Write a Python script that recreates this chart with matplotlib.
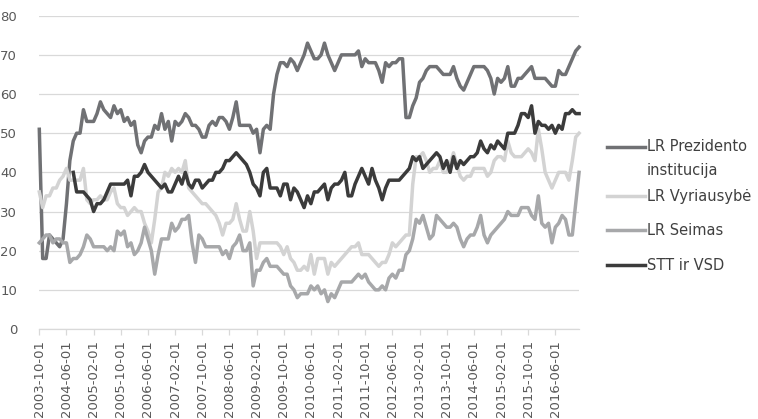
import numpy as np
import pandas as pd
import matplotlib
matplotlib.use("Agg")
import matplotlib.pyplot as plt
from matplotlib.lines import Line2D

# monthly survey series, 2003-10 .. 2017-01
start_month = "2003-10-01"

prezidento = [
    51, 18, 18, 24, 23, 22, 21, 23, 32, 43,
    48, 50, 50, 56, 53, 53, 53, 55, 58, 56,
    55, 54, 57, 55, 56, 53, 54, 52, 53, 47,
    45, 48, 49, 49, 52, 51, 55, 51, 53, 48,
    53, 52, 53, 55, 54, 52, 52, 51, 49, 49,
    52, 53, 52, 54, 54, 53, 51, 54, 58, 52,
    52, 52, 52, 50, 51, 45, 51, 52, 51, 60,
    65, 68, 68, 67, 69, 68, 66, 68, 70, 73,
    71, 69, 69, 70, 73, 70, 68, 66, 68, 70,
    70, 70, 70, 70, 71, 67, 69, 68, 68, 68,
    66, 63, 68, 67, 68, 68, 69, 69, 54, 54,
    57, 59, 63, 64, 66, 67, 67, 67, 66, 65,
    65, 65, 67, 64, 62, 61, 63, 65, 67, 67,
    67, 67, 66, 64, 60, 64, 63, 64, 67, 62,
    62, 64, 64, 65, 66, 67, 64, 64, 64, 64,
    63, 62, 62, 66, 65, 65, 67, 69, 71, 72,
]

vyriausybe = [
    35, 31, 34, 34, 36, 36, 38, 39, 41, 38,
    38, 38, 38, 41, 33, 32, 33, 33, 34, 33,
    33, 35, 36, 32, 31, 31, 29, 30, 31, 30,
    30, 27, 25, 22, 28, 35, 36, 40, 39, 41,
    40, 41, 40, 43, 36, 35, 34, 33, 32, 32,
    31, 30, 29, 27, 24, 27, 27, 28, 32, 28,
    25, 25, 30, 25, 18, 22, 22, 22, 22, 22,
    22, 21, 19, 21, 18, 17, 15, 15, 16, 15,
    19, 14, 18, 18, 18, 14, 17, 16, 17, 18,
    19, 20, 21, 21, 22, 19, 19, 19, 18, 17,
    16, 17, 17, 19, 22, 21, 22, 23, 24, 24,
    37, 44, 44, 45, 43, 40, 41, 41, 43, 40,
    40, 42, 45, 42, 39, 38, 39, 39, 41, 41,
    41, 41, 39, 40, 43, 44, 44, 43, 48, 45,
    44, 44, 44, 45, 46, 45, 43, 51, 46, 40,
    38, 36, 38, 40, 40, 40, 38, 43, 49, 50,
]

seimas = [
    22, 23, 24, 24, 22, 23, 23, 22, 22, 17,
    18, 18, 19, 21, 24, 23, 21, 21, 21, 21,
    20, 21, 20, 25, 24, 25, 21, 22, 19, 20,
    22, 26, 23, 20, 14, 19, 23, 23, 23, 27,
    25, 26, 28, 28, 29, 22, 17, 24, 23, 21,
    21, 21, 21, 21, 19, 20, 18, 21, 22, 24,
    20, 20, 22, 11, 15, 15, 17, 18, 16, 16,
    16, 15, 14, 14, 11, 10, 8, 9, 9, 9,
    11, 10, 11, 9, 10, 7, 9, 8, 10, 12,
    12, 12, 12, 13, 14, 13, 14, 12, 11, 10,
    10, 11, 10, 13, 14, 13, 15, 15, 19, 20,
    23, 28, 27, 29, 26, 23, 24, 29, 28, 27,
    26, 26, 27, 26, 23, 21, 23, 24, 24, 26,
    29, 24, 22, 24, 25, 26, 27, 28, 30, 29,
    29, 29, 31, 31, 31, 29, 28, 34, 27, 26,
    27, 22, 26, 27, 29, 28, 24, 24, 32, 40,
]

stt_vsd = [
    None, None, None, None, None, None, None, None, None, None,
    40, 35, 35, 35, 34, 33, 30, 32, 32, 33,
    35, 37, 37, 37, 37, 37, 38, 34, 39, 39,
    40, 42, 40, 39, 38, 37, 36, 37, 35, 35,
    37, 39, 37, 40, 37, 36, 38, 38, 36, 37,
    38, 38, 40, 40, 41, 43, 43, 44, 45, 44,
    43, 42, 40, 37, 36, 34, 40, 41, 36, 36,
    36, 34, 37, 37, 33, 36, 35, 33, 31, 34,
    32, 35, 35, 36, 37, 33, 36, 37, 37, 38,
    40, 34, 34, 37, 39, 41, 39, 37, 41, 38,
    36, 33, 36, 38, 38, 38, 38, 39, 40, 41,
    44, 43, 44, 41, 42, 43, 44, 45, 44, 41,
    43, 40, 44, 41, 43, 42, 43, 44, 44, 45,
    48, 46, 45, 47, 46, 48, 47, 46, 50, 50,
    50, 52, 55, 55, 54, 57, 50, 53, 52, 52,
    51, 52, 50, 52, 51, 55, 55, 56, 55, 55,
]

series_labels = ["LR Prezidento institucija", "LR Vyriausybė", "LR Seimas", "STT ir VSD"]
series_colors = ["#707174", "#d3d3d3", "#a7a8aa", "#3b3b3b"]

n = len(prezidento)
months = pd.date_range(start_month, periods=n, freq="MS")
x = np.arange(n)
tick_idx = x[::8]
tick_labels = months[tick_idx].strftime("%Y-%m-%d")

W, H = 758, 419
fig = plt.figure(figsize=(W / 100, H / 100), dpi=100)
ax = fig.add_axes([39.3 / W, 1 - 329 / H, (579.1 - 39.3) / W, (329 - 15.7) / H])

all_series = [prezidento, vyriausybe, seimas, stt_vsd]
for vals, color in zip(all_series, series_colors):
    y = np.array([np.nan if v is None else v for v in vals], dtype=float)
    ax.plot(x, y, color=color, linewidth=2.5, clip_on=False, zorder=3)

ax.set_xlim(0, n - 1)
ax.set_ylim(0, 80)
ax.set_yticks(range(0, 81, 10))
ax.set_xticks(tick_idx)
ax.set_xticklabels(tick_labels, rotation=90)

ax.grid(axis="y", color="#d9d9d9", linewidth=0.9)
ax.set_axisbelow(True)
for side in ["left", "right", "top"]:
    ax.spines[side].set_visible(False)
ax.spines["bottom"].set_color("#d9d9d9")
ax.spines["bottom"].set_linewidth(0.9)
ax.tick_params(axis="y", length=0, pad=16, labelsize=9.5, labelcolor="#595959")
ax.tick_params(axis="x", length=4, width=0.9, color="#d9d9d9", pad=4,
               labelsize=9.5, labelcolor="#595959")

# legend on the right, drawn by hand so the wrapped label sits like the original
leg_y = [146.7, 196, 230, 265]
x0, x1 = 606.7 / W, 645.0 / W
for lab, color, yp in zip(series_labels, series_colors, leg_y):
    yf = 1 - yp / H
    fig.add_artist(Line2D([x0, x1], [yf, yf], transform=fig.transFigure,
                          color=color, linewidth=2.5))
    if lab.startswith("LR Prezidento"):
        first, second = "LR Prezidento", "institucija"
        fig.text(x1 + 2 / W, yf, first, va="center", ha="left",
                 fontsize=10.5, color="#404040")
        fig.text(x1 + 2 / W, 1 - (yp + 23.5) / H, second, va="center", ha="left",
                 fontsize=10.5, color="#404040")
    else:
        fig.text(x1 + 2 / W, yf, lab, va="center", ha="left",
                 fontsize=10.5, color="#404040")

fig.savefig("out.png", dpi=100, facecolor="white")
